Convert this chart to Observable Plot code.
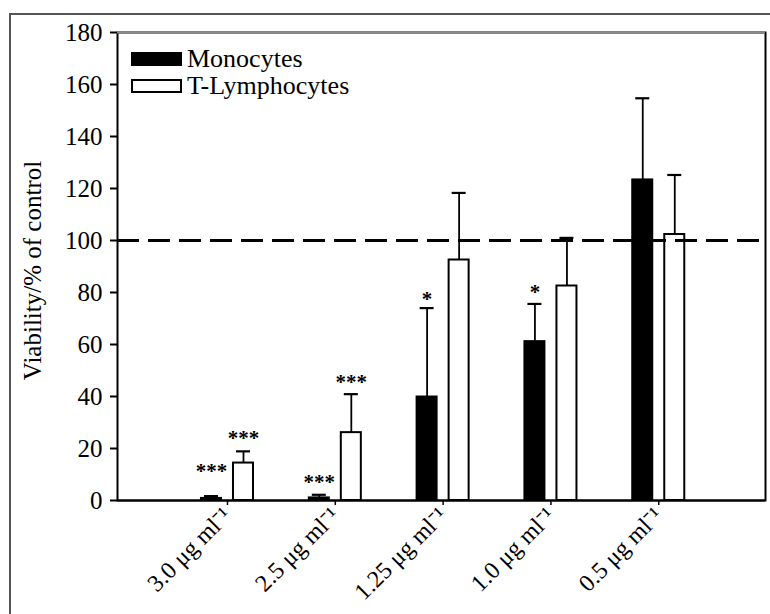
<!DOCTYPE html>
<html>
<head>
<meta charset="utf-8">
<script src="https://cdn.jsdelivr.net/npm/d3@7"></script>
<script src="https://cdn.jsdelivr.net/npm/@observablehq/plot@0.6"></script>
<style>
  html, body { margin: 0; padding: 0; background: #fff; }
  #wrap { position: relative; width: 770px; height: 614px; overflow: hidden; font-family: "Liberation Serif", serif; color: #000; }
  #outer { position: absolute; left: 9px; top: 13px; width: 900px; height: 800px; border-left: 2px solid #555; border-top: 2px solid #555; pointer-events: none; }
  #chart { position: absolute; left: 0; top: 0; }
  #legend { position: absolute; left: 131px; top: 45px; font-size: 26px; }
  .item { display: flex; align-items: center; height: 27px; }
  .sw { width: 51px; height: 14px; box-sizing: border-box; margin-right: 5px; }
</style>
</head>
<body>
<div id="wrap">
  <div id="chart"></div>
  <div id="outer"></div>
  <div id="legend"></div>
</div>
<script>
// ---- data ----
const categories = ["3.0 μg ml⁻¹", "2.5 μg ml⁻¹", "1.25 μg ml⁻¹", "1.0 μg ml⁻¹", "0.5 μg ml⁻¹"];
const groups = ["Monocytes", "T-Lymphocytes"];
const groupColors = ["#000000", "#ffffff"];
const monoMean = [0.8, 1.0, 39.8, 61.1, 123.3];
const monoSD   = [0.9, 1.2, 34.2, 14.5, 31.4];
const tMean    = [14.4, 26.1, 92.5, 82.5, 102.3];
const tSD      = [4.5, 14.8, 25.8, 18.5, 22.9];
const monoSig  = ["***", "***", "*", "*", ""];
const monoSigY = [13.9, 9.6, 80.2, 82.8, null];
const tSig     = ["***", "***", "", "", ""];
const tSigY    = [26.6, 48.1, null, null, null];
const yTicks   = [0, 20, 40, 60, 80, 100, 120, 140, 160, 180];
const controlLevel = [100];
const yLabel = "Viability/% of control";

// ---- build table ----
const rows = categories.flatMap((c, i) => [
  {cat: c, pos: i + 1, group: groups[0], side: -1, mean: monoMean[i], sd: monoSD[i], sig: monoSig[i], sigY: monoSigY[i]},
  {cat: c, pos: i + 1, group: groups[1], side: 1, mean: tMean[i], sd: tSD[i], sig: tSig[i], sigY: tSigY[i]}
]);
const OFF = 0.1485, HALF = 0.0928, CAP = 0.065;
const cx = d => d.pos + d.side * OFF;

const chart = Plot.plot({
  width: 770,
  height: 614,
  marginLeft: 117,
  marginRight: 5,
  marginTop: 32,
  marginBottom: 114,
  style: {fontFamily: "Liberation Serif, serif", color: "#000", background: "transparent"},
  x: {domain: [-0.02, 5.99]},
  y: {domain: [0, 180]},
  color: {domain: groups, range: groupColors},
  marks: [
    Plot.frame({stroke: "#000", strokeWidth: 2}),
    Plot.ruleY([180], {stroke: "#8a8a8a", strokeWidth: 2}),
    Plot.rectY(rows, {x1: d => cx(d) - HALF, x2: d => cx(d) + HALF, y1: 0, y2: "mean", fill: "group", stroke: "#000", strokeWidth: 2}),
    Plot.ruleX(rows, {x: cx, y1: "mean", y2: d => d.mean + d.sd, stroke: "#000", strokeWidth: 1.8}),
    Plot.ruleY(rows, {y: d => d.mean + d.sd, x1: d => cx(d) - CAP, x2: d => cx(d) + CAP, stroke: "#000", strokeWidth: 2.2}),
    Plot.ruleY(controlLevel, {stroke: "#000", strokeWidth: 3, strokeDasharray: "22,9"}),
    Plot.text(rows.filter(d => d.sig), {x: cx, y: "sigY", text: "sig", fontSize: 21, fontWeight: "bold", dy: 7}),
    Plot.ruleY([0], {stroke: "#000", strokeWidth: 2}),
    Plot.axisY({ticks: yTicks, tickSize: 7, tickPadding: 8, fontSize: 25, label: null, strokeWidth: 2}),
    Plot.axisX({ticks: [1, 2, 3, 4, 5], tickFormat: i => categories[i - 1], tickRotate: -45, tickSize: 5, tickPadding: 6, fontSize: 24, label: null, strokeWidth: 1.5}),
    Plot.text([yLabel], {frameAnchor: "left", textAnchor: "middle", rotate: -90, dx: -85, dy: 4, fontSize: 25})
  ]
});
document.getElementById("chart").appendChild(chart);

// ---- legend ----
const legend = document.getElementById("legend");
groups.forEach((g, i) => {
  const item = document.createElement("div");
  item.className = "item";
  const sw = document.createElement("div");
  sw.className = "sw";
  sw.style.background = groupColors[i];
  sw.style.border = "2px solid #000";
  const t = document.createElement("span");
  t.textContent = g;
  item.appendChild(sw);
  item.appendChild(t);
  legend.appendChild(item);
});
</script>
</body>
</html>
